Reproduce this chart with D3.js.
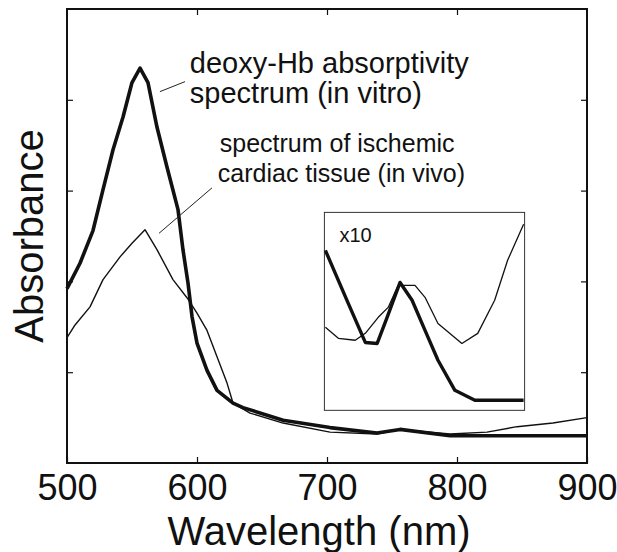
<!DOCTYPE html>
<html>
<head>
<meta charset="utf-8">
<script src="https://cdn.jsdelivr.net/npm/d3@7"></script>
<style>
    body { margin: 0; background: #fff; }
    #chart { width: 617px; height: 552px; }
    text { font-family: "Liberation Sans", Arial, Helvetica, sans-serif; fill: #111; }
</style>
</head>
<body>
<div id="chart"></div>
<script>

// wavelength (nm) / absorbance (a.u.)
let hbWave   = [500, 510, 520, 527.7, 535.4, 543.1, 550, 556.2, 562.3, 569.2, 576.9, 585.4, 589.2, 593.1, 596.2, 600, 607.7, 615.4, 627.7, 635.4, 666.2, 702.3, 738.5, 756.2, 794.6, 900];
let hbAbs    = [1.92, 2.20, 2.56, 3.01, 3.45, 3.81, 4.19, 4.35, 4.19, 3.70, 3.26, 2.79, 2.35, 1.98, 1.61, 1.32, 1.02, 0.80, 0.66, 0.61, 0.47, 0.39, 0.33, 0.37, 0.30, 0.30];

let tissueWave = [500, 506.2, 517.7, 527.7, 540.8, 550, 560, 569.2, 581.5, 592.3, 600, 607.7, 615.4, 623.1, 627.7, 640.8, 666.2, 702.3, 738.5, 756.2, 794.6, 823.1, 846.2, 873.8, 900];
let tissueAbs  = [1.38, 1.52, 1.72, 2.02, 2.27, 2.42, 2.57, 2.35, 2.02, 1.82, 1.65, 1.46, 1.17, 0.88, 0.66, 0.55, 0.44, 0.34, 0.32, 0.37, 0.32, 0.34, 0.40, 0.44, 0.50];

// inset, x10 magnification of the near-infrared part
let insetHbWave = [700, 707.5, 717.3, 730.2, 739.2, 746.7, 756.5, 765.6, 775.4, 785.2, 798.0, 813.1, 850];
let insetHbAbs  = [8.08, 6.92, 5.40, 3.43, 3.38, 4.70, 6.46, 5.56, 4.04, 2.53, 1.01, 0.51, 0.51];
let insetTissueWave = [700, 709.8, 722.6, 730.2, 740.0, 747.5, 755.0, 767.8, 775.4, 785.2, 803.3, 815.3, 828.1, 837.9, 850];
let insetTissueAbs  = [4.20, 3.64, 3.54, 3.89, 4.70, 5.20, 6.31, 6.31, 5.71, 4.39, 3.38, 3.89, 5.56, 7.58, 9.40];

let xTickLabels = [500, 600, 700, 800, 900];
let yTicks = [1, 2, 3, 4];

// annotations: text lines and leader lines in data units
let labelLines = [
    {text: "deoxy-Hb absorptivity", x: 594.5, y: 4.299, size: 29},
    {text: "spectrum (in vitro)", x: 594.5, y: 3.965, size: 29},
    {text: "spectrum of ischemic", x: 617.5, y: 3.425, size: 25},
    {text: "cardiac tissue (in vivo)", x: 616, y: 3.10, size: 25}
];
let leaders = [
    [[571.5, 4.09], [590.8, 4.20]],
    [[570.8, 2.53], [611.5, 3.03]]
];


let margin = {top: 9, right: 30, bottom: 89, left: 67};
let width = 617 - margin.left - margin.right;
let height = 552 - margin.top - margin.bottom;

let svg = d3.select("#chart").append("svg")
    .attr("width", 617)
    .attr("height", 552);

let g = svg.append("g")
    .attr("transform", `translate(${margin.left},${margin.top})`);

let x = d3.scaleLinear().domain([500, 900]).range([0, width]);
let y = d3.scaleLinear().domain([0, 5]).range([height, 0]);

// ticks point inward on all four sides
g.append("g")
    .attr("transform", `translate(0,${height})`)
    .call(d3.axisBottom(x).tickValues(xTickLabels).tickSize(-6).tickPadding(11))
    .call(ax => ax.select(".domain").remove())
    .call(ax => ax.selectAll("text").attr("font-size", 36).attr("dy", "0.71em"));

g.append("g")
    .call(d3.axisTop(x).tickValues([600, 700, 800]).tickSize(-6).tickFormat(""))
    .call(ax => ax.select(".domain").remove());

g.append("g")
    .call(d3.axisLeft(y).tickValues(yTicks).tickSize(-6).tickFormat(""))
    .call(ax => ax.select(".domain").remove());

g.append("g")
    .attr("transform", `translate(${width},0)`)
    .call(d3.axisRight(y).tickValues(yTicks).tickSize(-6).tickFormat(""))
    .call(ax => ax.select(".domain").remove());

g.selectAll(".tick line").attr("stroke", "#111").attr("stroke-width", 1.2);

g.append("rect")
    .attr("width", width)
    .attr("height", height)
    .attr("fill", "none")
    .attr("stroke", "#111")
    .attr("stroke-width", 2);

// axis titles
svg.append("text")
    .attr("x", margin.left + width / 2 - 8)
    .attr("y", 545)
    .attr("text-anchor", "middle")
    .attr("font-size", 40)
    .text("Wavelength (nm)");

svg.append("text")
    .attr("transform", "translate(43,236) rotate(-90)")
    .attr("text-anchor", "middle")
    .attr("font-size", 40)
    .text("Absorbance");

let line = d3.line()
    .x(d => x(d[0]))
    .y(d => y(d[1]));

g.append("path")
    .datum(d3.zip(tissueWave, tissueAbs))
    .attr("d", line)
    .attr("fill", "none")
    .attr("stroke", "#111")
    .attr("stroke-width", 1.4)
    .attr("stroke-linejoin", "round");

g.append("path")
    .datum(d3.zip(hbWave, hbAbs))
    .attr("d", line)
    .attr("fill", "none")
    .attr("stroke", "#111")
    .attr("stroke-width", 3.6)
    .attr("stroke-linejoin", "round");

// labels + leader lines
g.selectAll(".label")
    .data(labelLines)
    .enter()
    .append("text")
    .attr("class", "label")
    .attr("x", d => x(d.x))
    .attr("y", d => y(d.y))
    .attr("font-size", d => d.size)
    .text(d => d.text);

g.selectAll(".leader")
    .data(leaders)
    .enter()
    .append("line")
    .attr("class", "leader")
    .attr("x1", d => x(d[0][0]))
    .attr("y1", d => y(d[0][1]))
    .attr("x2", d => x(d[1][0]))
    .attr("y2", d => y(d[1][1]))
    .attr("stroke", "#222")
    .attr("stroke-width", 1);

// inset box, placed in main data coords
let insetX0 = x(698), insetX1 = x(852);
let insetY0 = y(2.76), insetY1 = y(0.58);

let inset = g.append("g");

inset.append("rect")
    .attr("x", insetX0)
    .attr("y", insetY0)
    .attr("width", insetX1 - insetX0)
    .attr("height", insetY1 - insetY0)
    .attr("fill", "#fff")
    .attr("stroke", "#333")
    .attr("stroke-width", 1);

let xi = d3.scaleLinear().domain([700, 850]).range([insetX0 + 1, insetX1 - 1]);
let yi = d3.scaleLinear().domain([0, 10]).range([insetY1, insetY0]);

let insetLine = d3.line()
    .x(d => xi(d[0]))
    .y(d => yi(d[1]));

inset.append("path")
    .datum(d3.zip(insetTissueWave, insetTissueAbs))
    .attr("d", insetLine)
    .attr("fill", "none")
    .attr("stroke", "#111")
    .attr("stroke-width", 1.3)
    .attr("stroke-linejoin", "round");

inset.append("path")
    .datum(d3.zip(insetHbWave, insetHbAbs))
    .attr("d", insetLine)
    .attr("fill", "none")
    .attr("stroke", "#111")
    .attr("stroke-width", 3.4)
    .attr("stroke-linejoin", "round");

inset.append("text")
    .attr("x", insetX0 + 15)
    .attr("y", insetY0 + 30)
    .attr("font-size", 20)
    .text("x10");

</script>
</body>
</html>
